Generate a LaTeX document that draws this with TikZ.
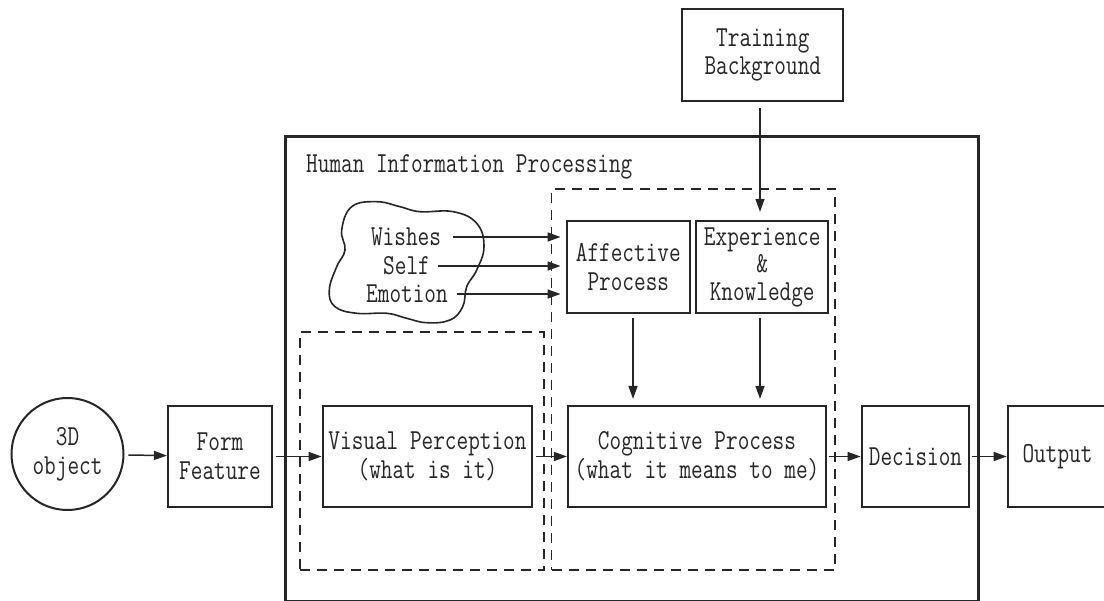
\documentclass[tikz,border=0pt]{standalone}
\usepackage{fontspec}
\setmainfont[FakeStretch=0.78]{Latin Modern Mono}
\usetikzlibrary{arrows.meta}
\begin{document}
\begin{tikzpicture}[x=1pt,y=-1pt,
  lab/.style={font=\fontsize{29}{29}\selectfont, align=center, inner sep=0pt, text=black!85},
  box/.style={draw=black!85, line width=2.2pt, inner sep=0pt, align=center, font=\fontsize{29}{29}\selectfont, text=black!85},
  dashbox/.style={draw=black!85, line width=1.6pt, dash pattern=on 10pt off 7pt, inner sep=0pt},
  arr/.style={draw=black!85, -{Triangle[length=13pt,width=9pt]}, line width=1.5pt}]
\useasboundingbox (0,0) rectangle (1104,601);

% containers
\node[draw=black!85, line width=2.6pt, inner sep=0pt, minimum width=692.8pt, minimum height=464.3pt] (hip) at (631.9,368.85) {};
\node[lab, anchor=base west] (title) at (306,173) {Human Information Processing};
\node[dashbox, minimum width=243.7pt, minimum height=238pt] (ldash) at (421.85,451) {};
\node[dashbox, minimum width=283.5pt, minimum height=381pt] (rdash) at (693.25,379.5) {};

% boxes
\node[draw=black!85, circle, line width=2pt, minimum size=112pt, inner sep=0pt, align=center, font=\fontsize{29}{29}\selectfont, text=black!85] (obj) at (67.5,454) {3D\\object};
\node[box, minimum width=104pt, minimum height=101pt] (form) at (220,456.5) {Form\\Feature};
\node[box, minimum width=209.6pt, minimum height=101pt] (vp) at (427.5,456.5) {Visual Perception\\(what is it)};
\node[box, minimum width=258pt, minimum height=101pt] (cog) at (697,456.5) {Cognitive Process\\(what it means to me)};
\node[box, minimum width=107.6pt, minimum height=101pt] (dec) at (915.5,456.5) {Decision};
\node[box, minimum width=99.5pt, minimum height=101pt] (out) at (1057.5,456.5) {Output};
\node[box, minimum width=123.3pt, minimum height=92pt, font=\fontsize{29}{28.3}\selectfont] (aff) at (628.3,267) {Affective\\Process};
\node[box, minimum width=132.3pt, minimum height=92pt, font=\fontsize{29}{27.5}\selectfont] (exp) at (762.2,267) {Experience\\\&\\Knowledge};
\node[box, minimum width=161pt, minimum height=91.4pt, font=\fontsize{29}{28.3}\selectfont] (train) at (762.8,55) {Training\\Background};

% cloud
\draw[draw=black!85, line width=1.6pt] plot[smooth cycle, tension=0.7] coordinates {
 (341.7,230) (351.7,206.7) (376.7,201.7) (400,206.7) (420,211.7) (453.3,211.7)
 (476.7,223.3) (484,246.7) (476.7,270) (466.7,286.7) (462.7,306.7) (450,320)
 (426.7,322.7) (406.7,318.3) (386.7,313.3) (356.7,313.3) (335,306.7) (329.3,290)
 (336.7,266.7) (345,250)};
\node[lab] (wishes) at (406,237) {Wishes};
\node[lab] (self) at (406.5,266) {Self};
\node[lab] (emotion) at (407,294) {Emotion};
\coordinate (w0) at (453.3,237);
\coordinate (s0) at (438,266);
\coordinate (e0) at (456.7,294);

% connectors
\draw[arr, shorten >=5pt] (w0) -- (w0 -| aff.west);
\draw[arr, shorten >=5pt] (s0) -- (s0 -| aff.west);
\draw[arr, shorten >=5pt] (e0) -- (e0 -| aff.west);
\draw[arr, shorten <=4pt] (obj) -- (form);
\draw[arr, shorten <=3pt] (form) -- (vp);
\draw[arr, shorten <=2.5pt] (vp) -- (cog);
\draw[arr, shorten <=2pt] (cog) -- (dec);
\draw[arr, shorten <=2pt] (dec) -- (out);
\draw[arr, shorten <=4pt, shorten >=6pt] ([xshift=4.7pt]aff.south) -- ([xshift=4.7pt]aff.south |- cog.north);
\draw[arr, shorten <=4pt, shorten >=6pt] ([xshift=-2.2pt]exp.south) -- ([xshift=-2.2pt]exp.south |- cog.north);
\draw[arr, shorten <=6pt, shorten >=8pt] ([xshift=-2.8pt]train.south) -- ([xshift=-2.8pt]train.south |- exp.north);
\end{tikzpicture}
\end{document}
